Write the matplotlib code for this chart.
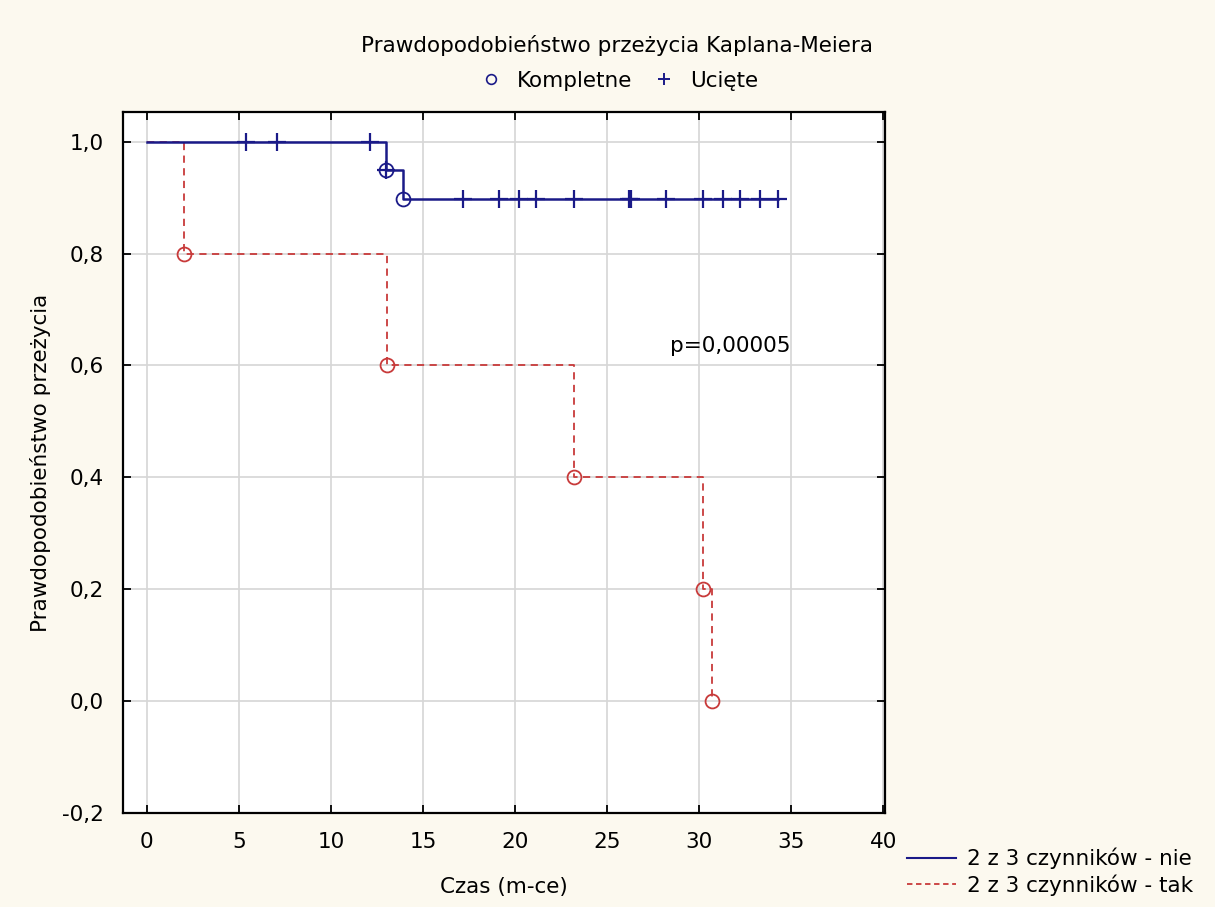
import numpy as np
import matplotlib
matplotlib.use('Agg')
import matplotlib.pyplot as plt
from matplotlib.lines import Line2D
from matplotlib.ticker import FuncFormatter

# --- data ---
# group "nie": step curve, events (circles) and censored times (+)
nie_t = [0, 13.0, 13.9, 34.3]
nie_s = [1.0, 0.95, 0.897, 0.897]
nie_event_t = [13.0, 13.9]
nie_event_s = [0.95, 0.897]
nie_cens_t = [5.4, 7.05, 12.1, 13.0, 17.15, 19.15, 20.2, 21.15, 23.2,
              26.2, 26.3, 28.2, 30.2, 31.3, 32.2, 33.3, 34.3]

# group "tak": step curve and events
tak_t = [0, 2.0, 13.05, 23.2, 30.2, 30.7]
tak_s = [1.0, 0.8, 0.6, 0.4, 0.2, 0.0]
tak_event_t = [2.0, 13.05, 23.2, 30.2, 30.7]
tak_event_s = [0.8, 0.6, 0.4, 0.2, 0.0]

x_ticks = [0, 5, 10, 15, 20, 25, 30, 35, 40]
y_ticks = [-0.2, 0.0, 0.2, 0.4, 0.6, 0.8, 1.0]

BLUE = '#1a1a88'
RED = '#c83a3a'
BG = '#fcf9ef'
FS = 15.5

plt.rcParams['font.family'] = ['DejaVu Sans']


def surv_at(t, times, surv):
    i = np.searchsorted(times, t, side='right') - 1
    return np.asarray(surv)[i]


fig = plt.figure(figsize=(12.15, 9.07), dpi=100, facecolor=BG)
ax = fig.add_axes([123 / 1215, 1 - 813 / 907, (885 - 123) / 1215, (813 - 112) / 907])
ax.set_facecolor('white')

ax.step(nie_t, nie_s, where='post', color=BLUE, lw=1.8, zorder=4)
ax.step(tak_t, tak_s, where='post', color=RED, lw=1.3, ls=(0, (4, 3)), zorder=3)

ax.plot(nie_event_t, nie_event_s, 'o', mfc='none', mec=BLUE, ms=10, mew=1.3, zorder=5)
ax.plot(nie_cens_t, surv_at(nie_cens_t, nie_t, nie_s), '+', color=BLUE, ms=13, mew=1.6, zorder=5)
ax.plot(tak_event_t, tak_event_s, 'o', mfc='none', mec=RED, ms=10, mew=1.3, zorder=5)

ax.set_xlim(-1.3, 40.1)
ax.set_ylim(-0.2, 1.053)
ax.set_xticks(x_ticks)
ax.set_yticks(y_ticks)
ax.yaxis.set_major_formatter(FuncFormatter(lambda v, p: f'{v:.1f}'.replace('.', ',').replace('-0,0', '0,0')))
ax.tick_params(direction='in', top=True, right=True, length=6, width=1.3,
               labelsize=FS, pad=14)
ax.grid(True, color='#d6d6d6', lw=1.2)
ax.set_axisbelow(True)
for sp in ax.spines.values():
    sp.set_linewidth(1.6)

ax.text(28.4, 0.635, 'p=0,00005', fontsize=FS, va='center', ha='left')

ax.set_xlabel('Czas (m-ce)', fontsize=FS, labelpad=18)
ax.set_ylabel('Prawdopodobieństwo przeżycia', fontsize=FS, labelpad=8)

fig.text(617 / 1215, 1 - 45 / 907, 'Prawdopodobieństwo przeżycia Kaplana-Meiera',
         fontsize=FS, ha='center', va='center')

top_handles = [Line2D([], [], ls='none', marker='o', mfc='none', mec=BLUE, ms=7, mew=1.2),
               Line2D([], [], ls='none', marker='+', color=BLUE, ms=9, mew=1.4)]
fig.legend(top_handles, ['Kompletne', 'Ucięte'], loc='center',
           bbox_to_anchor=(618 / 1215, 1 - 81 / 907), ncol=2, frameon=False,
           fontsize=FS, handlelength=1.2, handletextpad=0.6, columnspacing=0.9)

bottom_handles = [Line2D([], [], color=BLUE, lw=1.5),
                  Line2D([], [], color=RED, lw=1.3, ls=(0, (3, 2)))]
fig.legend(bottom_handles, ['2 z 3 czynników - nie', '2 z 3 czynników - tak'],
           loc='upper left', bbox_to_anchor=(898 / 1215, 1 - 839 / 907),
           frameon=False, fontsize=FS, handlelength=2.3, handletextpad=0.5,
           labelspacing=0.25, borderaxespad=0)

fig.savefig('out.png', dpi=100, facecolor=BG)
